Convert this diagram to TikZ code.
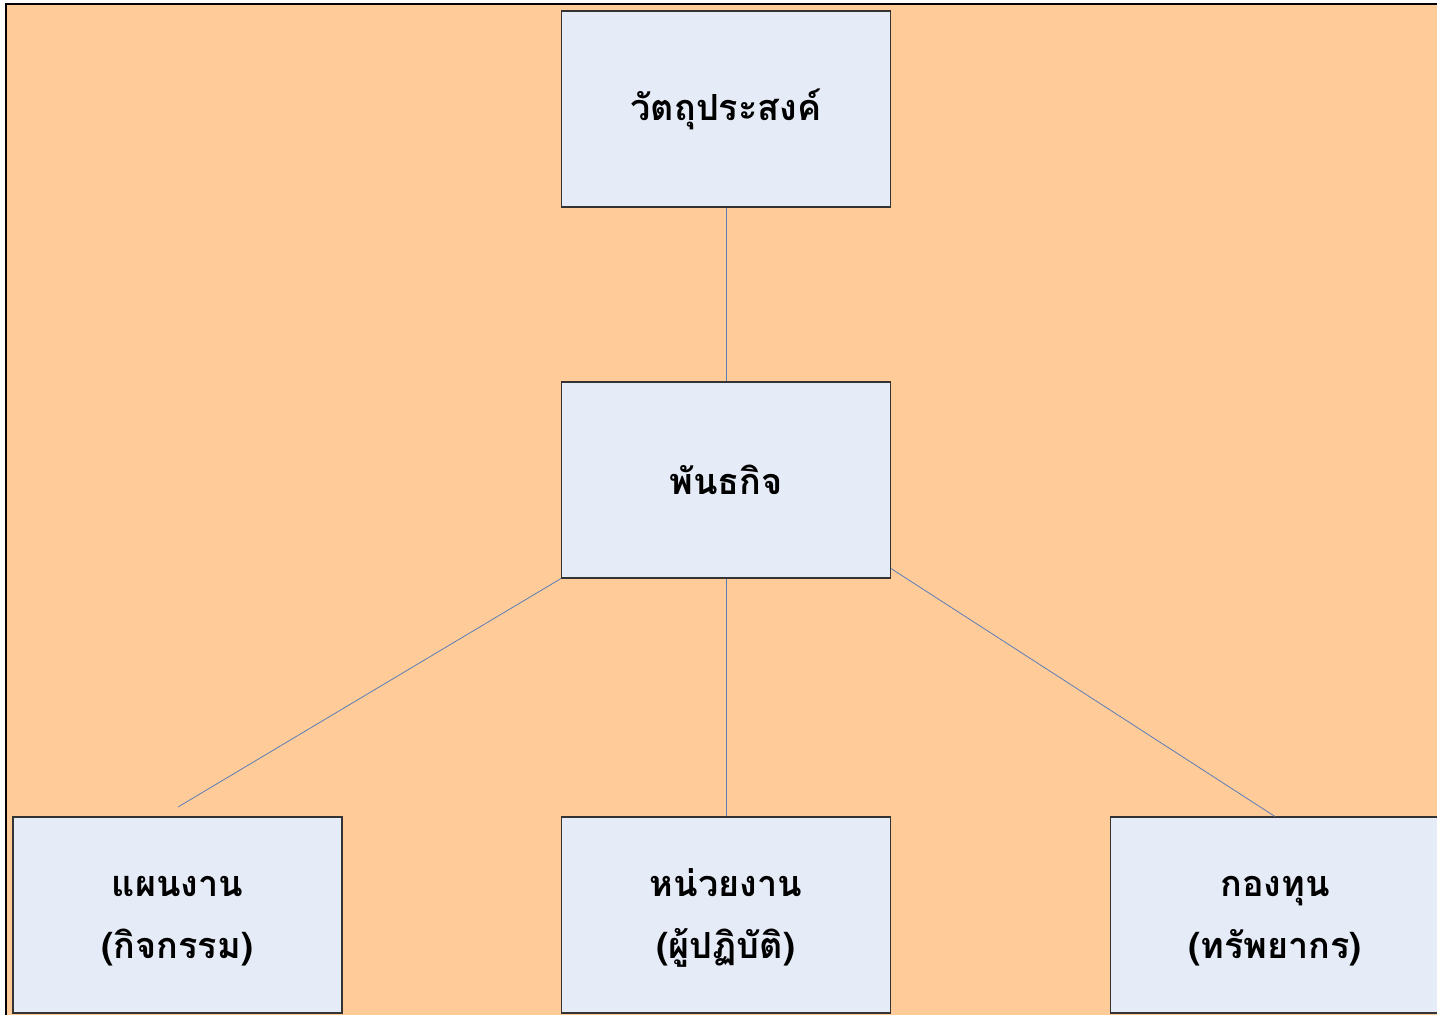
\documentclass[tikz,border=0pt]{standalone}
\usepackage{fontspec}
\newfontfamily\thaifont[Script=Thai]{Loma}
\definecolor{bgorange}{HTML}{FFCC99}
\definecolor{boxfill}{HTML}{E6ECF7}
\definecolor{boxline}{HTML}{333333}
\definecolor{linkcol}{HTML}{5B7DB8}
\newcommand{\twolines}[2]{\raisebox{-5pt}{\begin{tabular}{@{}c@{}}#1\\#2\end{tabular}}}
\begin{document}
\begin{tikzpicture}[x=0.75pt,y=-0.75pt,
  orgbox/.style={draw=boxline,line width=0.8pt,fill=boxfill,minimum width=329*0.75pt,minimum height=196*0.75pt,inner sep=0pt,align=center,font=\thaifont\bfseries\fontsize{27}{47}\selectfont},
  link/.style={draw=linkcol,line width=0.6pt}]
\useasboundingbox (0,0) rectangle (1437,1015);
\fill[white] (0,0) rectangle (1437,1015);
\fill[bgorange] (6,4) rectangle (1437,1015);
\draw[black,line width=1.6pt] (6,1015) -- (6,4) -- (1437,4);
\node[orgbox] (obj) at (726,109) {วัตถุประสงค์};
\node[orgbox] (mis) at (726,480) {พันธกิจ};
\node[orgbox] (plan) at (177.5,915) {\twolines{แผนงาน}{(กิจกรรม)}};
\node[orgbox] (unit) at (726,915) {\twolines{หน่วยงาน}{(ผู้ปฏิบัติ)}};
\node[orgbox] (fund) at (1275,915) {\twolines{กองทุน}{(ทรัพยากร)}};
\coordinate (planend) at (178,807);
\draw[link] (obj.south) -- (mis.north);
\draw[link] (mis.south west) -- (planend);
\draw[link] (mis.south) -- (unit.north);
\draw[link] ([yshift=7.5pt]mis.south east) -- (fund.north);
\end{tikzpicture}
\end{document}
